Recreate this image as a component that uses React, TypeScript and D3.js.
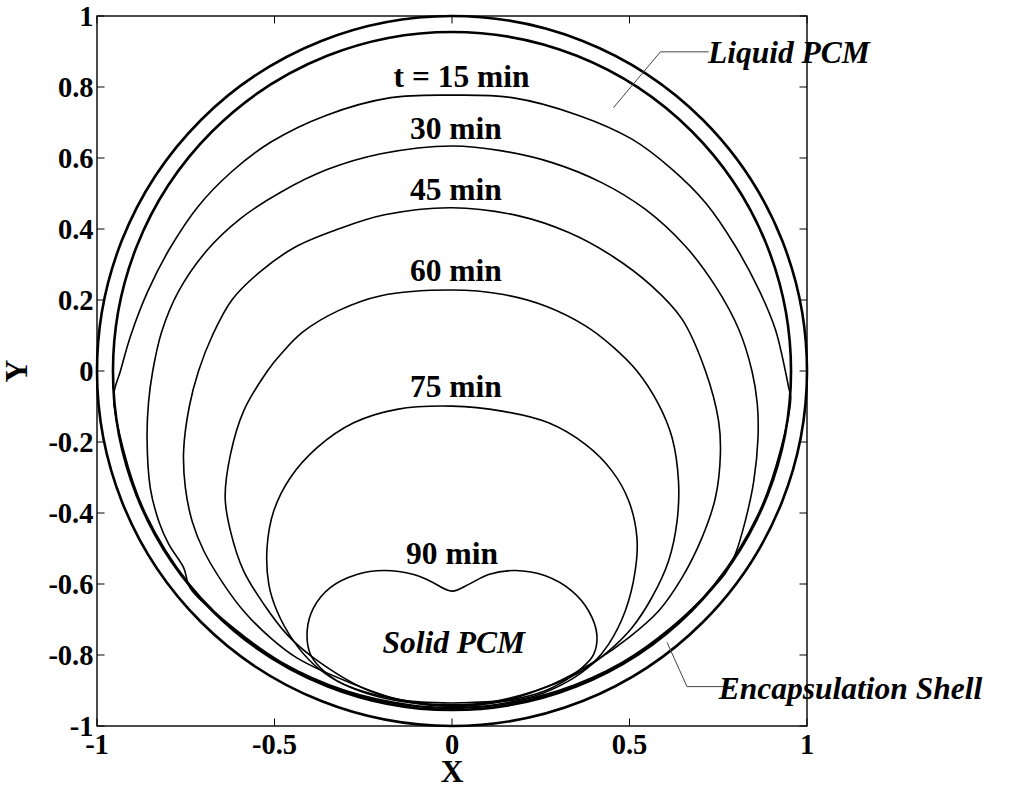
import React from "react";
import * as d3 from "d3";

// Melting fronts of the PCM inside the spherical capsule (dimensionless X, Y)
const front15: [number, number][] = [
  [0, 0.777], [0.169, 0.77], [0.357, 0.72], [0.507, 0.653], [0.62, 0.568], [0.714, 0.474],
  [0.798, 0.352], [0.864, 0.23], [0.911, 0.117], [0.939, 0.0], [0.948, -0.045], [0.954, -0.075],
  [0.926, -0.22], [0.864, -0.4], [0.74, -0.6], [0.587, -0.75], [0.43, -0.85], [0.25, -0.918],
  [0.1, -0.945], [0, -0.95], [-0.1, -0.945], [-0.25, -0.918], [-0.43, -0.85], [-0.587, -0.75],
  [-0.74, -0.6], [-0.864, -0.4], [-0.926, -0.22], [-0.953, -0.07], [-0.934, 0.0], [-0.905, 0.1],
  [-0.858, 0.222], [-0.795, 0.345], [-0.714, 0.465], [-0.62, 0.562], [-0.51, 0.645],
  [-0.355, 0.72], [-0.172, 0.77],
];

const front30: [number, number][] = [
  [0, 0.634], [0.141, 0.62], [0.282, 0.587], [0.423, 0.53], [0.545, 0.455], [0.657, 0.352],
  [0.742, 0.239], [0.808, 0.117], [0.845, 0.0], [0.86, -0.093], [0.862, -0.188], [0.85, -0.31],
  [0.826, -0.423], [0.798, -0.516], [0.77, -0.57], [0.74, -0.605], [0.62, -0.72], [0.48, -0.82],
  [0.3, -0.9], [0.12, -0.94], [0, -0.948], [-0.12, -0.94], [-0.3, -0.9], [-0.48, -0.82],
  [-0.62, -0.72], [-0.737, -0.612], [-0.756, -0.554], [-0.798, -0.488], [-0.826, -0.423],
  [-0.85, -0.329], [-0.859, -0.188], [-0.855, -0.09], [-0.843, 0.0], [-0.818, 0.11],
  [-0.77, 0.225], [-0.69, 0.34], [-0.595, 0.43], [-0.48, 0.505], [-0.35, 0.568],
  [-0.2, 0.612],
];

const front45: [number, number][] = [
  [0, 0.46], [0.188, 0.437], [0.329, 0.39], [0.451, 0.324], [0.563, 0.239], [0.648, 0.146],
  [0.714, 0.0], [0.751, -0.141], [0.756, -0.235], [0.742, -0.357], [0.704, -0.47], [0.648, -0.582],
  [0.582, -0.676], [0.498, -0.751], [0.404, -0.817], [0.282, -0.883], [0.141, -0.93], [0, -0.945],
  [-0.141, -0.928], [-0.282, -0.88], [-0.437, -0.808], [-0.512, -0.751], [-0.587, -0.676],
  [-0.643, -0.601], [-0.699, -0.507], [-0.732, -0.423], [-0.751, -0.329], [-0.756, -0.225],
  [-0.74, -0.1], [-0.714, 0.0], [-0.675, 0.1], [-0.62, 0.2], [-0.54, 0.28], [-0.44, 0.35],
  [-0.32, 0.4], [-0.19, 0.44],
];

const front60: [number, number][] = [
  [0, 0.228], [0.141, 0.216], [0.263, 0.183], [0.376, 0.127], [0.451, 0.07], [0.521, 0.0],
  [0.582, -0.094], [0.62, -0.188], [0.638, -0.31], [0.634, -0.423], [0.61, -0.535], [0.563, -0.638],
  [0.507, -0.723], [0.441, -0.789], [0.357, -0.85], [0.235, -0.901], [0.113, -0.932], [0, -0.942],
  [-0.113, -0.932], [-0.235, -0.9], [-0.39, -0.808], [-0.465, -0.742], [-0.53, -0.657],
  [-0.587, -0.563], [-0.624, -0.451], [-0.639, -0.357], [-0.624, -0.235], [-0.587, -0.113],
  [-0.52, 0.0], [-0.48, 0.05], [-0.42, 0.11], [-0.32, 0.17], [-0.2, 0.212],
];

const front75: [number, number][] = [
  [0, -0.099], [0.141, -0.113], [0.272, -0.146], [0.376, -0.207], [0.451, -0.282], [0.498, -0.366],
  [0.521, -0.47], [0.516, -0.563], [0.488, -0.676], [0.441, -0.77], [0.394, -0.826], [0.329, -0.873],
  [0.235, -0.915], [0.113, -0.935], [0, -0.94], [-0.113, -0.935], [-0.235, -0.91], [-0.324, -0.873],
  [-0.39, -0.826], [-0.446, -0.761], [-0.493, -0.676], [-0.516, -0.601], [-0.521, -0.498],
  [-0.502, -0.394], [-0.455, -0.3], [-0.38, -0.216], [-0.277, -0.146], [-0.155, -0.108],
];

const front90: [number, number][] = [
  [0, -0.62], [0.047, -0.601], [0.103, -0.573], [0.178, -0.562], [0.263, -0.577], [0.338, -0.62],
  [0.385, -0.676], [0.408, -0.742], [0.399, -0.798], [0.366, -0.836], [0.282, -0.892],
  [0.188, -0.922], [0.094, -0.932], [0, -0.935], [-0.094, -0.932], [-0.155, -0.925],
  [-0.249, -0.903], [-0.324, -0.873], [-0.371, -0.836], [-0.399, -0.798], [-0.408, -0.732],
  [-0.39, -0.667], [-0.343, -0.61], [-0.268, -0.573], [-0.192, -0.562], [-0.108, -0.573],
  [-0.061, -0.592],
];

const fronts = [front15, front30, front45, front60, front75, front90];

// Capsule wall: outer and inner radius
const shellRadii = [1, 0.955];

// Front labels: text, x centre, y baseline
const frontLabels = ["t = 15 min", "30 min", "45 min", "60 min", "75 min", "90 min"];
const frontLabelX = [0.027, 0.011, 0.011, 0.011, 0.011, 0.0];
const frontLabelY = [0.8, 0.654, 0.482, 0.254, -0.073, -0.544];

const xTicks = [-1, -0.5, 0, 0.5, 1];
const yTicks = [1, 0.8, 0.6, 0.4, 0.2, 0, -0.2, -0.4, -0.6, -0.8, -1];

// Annotation leaders
const liquidLeader: [number, number][] = [[0.455, 0.742], [0.587, 0.899], [0.723, 0.899]];
const shellLeader: [number, number][] = [[0.606, -0.765], [0.662, -0.889], [0.797, -0.889]];

const FONT = "'Liberation Serif', 'Times New Roman', Times, serif";

export default function App() {
  const x = d3.scaleLinear().domain([-1, 1]).range([97, 807]);
  const y = d3.scaleLinear().domain([-1, 1]).range([726, 16]);

  const closed = d3
    .line<[number, number]>()
    .x((d) => x(d[0]))
    .y((d) => y(d[1]))
    .curve(d3.curveCatmullRomClosed.alpha(0.5));
  const open = d3
    .line<[number, number]>()
    .x((d) => x(d[0]))
    .y((d) => y(d[1]));

  const tickLen = 7.5;
  const fmt = (v: number) => (v === 0 ? "0" : String(v));

  return (
    <svg
      width={1012}
      height={789}
      style={{ position: "absolute", left: 0, top: 0, background: "#fff" }}
      fontFamily={FONT}
    >
      <rect x={0} y={0} width={1012} height={789} fill="#fff" />

      {/* capsule wall */}
      {shellRadii.map((r, i) => (
        <circle
          key={"s" + i}
          cx={x(0)}
          cy={y(0)}
          r={x(r) - x(0)}
          fill="none"
          stroke="#000"
          strokeWidth={2.6}
        />
      ))}

      {/* melting fronts */}
      {fronts.map((f, i) => (
        <path key={"f" + i} d={closed(f) ?? ""} fill="none" stroke="#000" strokeWidth={1.6} />
      ))}

      {/* front labels */}
      {frontLabels.map((t, i) => (
        <text
          key={"l" + i}
          x={x(frontLabelX[i])}
          y={y(frontLabelY[i])}
          textAnchor="middle"
          fontWeight="bold"
          fontSize={31.5}
        >
          {t}
        </text>
      ))}
      <text
        x={x(0.005)}
        y={y(-0.794)}
        textAnchor="middle"
        fontWeight="bold"
        fontStyle="italic"
        fontSize={31.5}
      >
        Solid PCM
      </text>

      {/* annotations */}
      <path d={open(liquidLeader) ?? ""} fill="none" stroke="#444" strokeWidth={1} />
      <path d={open(shellLeader) ?? ""} fill="none" stroke="#444" strokeWidth={1} />
      <text x={x(0.721)} y={y(0.867)} fontWeight="bold" fontStyle="italic" fontSize={31.5}>
        Liquid PCM
      </text>
      <text x={x(0.7515)} y={y(-0.925)} fontWeight="bold" fontStyle="italic" fontSize={31.5}>
        Encapsulation Shell
      </text>

      {/* frame */}
      <rect
        x={x(-1)}
        y={y(1)}
        width={x(1) - x(-1)}
        height={y(-1) - y(1)}
        fill="none"
        stroke="#000"
        strokeWidth={1.4}
      />

      {/* ticks */}
      {xTicks.map((v) => (
        <g key={"xt" + v}>
          <line x1={x(v)} x2={x(v)} y1={y(-1)} y2={y(-1) - tickLen} stroke="#000" strokeWidth={1} />
          <line x1={x(v)} x2={x(v)} y1={y(1)} y2={y(1) + tickLen} stroke="#000" strokeWidth={1} />
          <text x={x(v)} y={754} textAnchor="middle" fontWeight="bold" fontSize={28.5}>
            {fmt(v)}
          </text>
        </g>
      ))}
      {yTicks.map((v) => (
        <g key={"yt" + v}>
          <line x1={x(-1)} x2={x(-1) + tickLen} y1={y(v)} y2={y(v)} stroke="#000" strokeWidth={1} />
          <line x1={x(1)} x2={x(1) - tickLen} y1={y(v)} y2={y(v)} stroke="#000" strokeWidth={1} />
          <text x={93.5} y={y(v) + 10} textAnchor="end" fontWeight="bold" fontSize={28.5}>
            {fmt(v)}
          </text>
        </g>
      ))}

      {/* axis titles */}
      <text x={x(0)} y={782} textAnchor="middle" fontWeight="bold" fontSize={31.5}>
        X
      </text>
      <text
        transform={`translate(27, ${y(0)}) rotate(-90)`}
        textAnchor="middle"
        fontWeight="bold"
        fontSize={31.5}
      >
        Y
      </text>
    </svg>
  );
}
